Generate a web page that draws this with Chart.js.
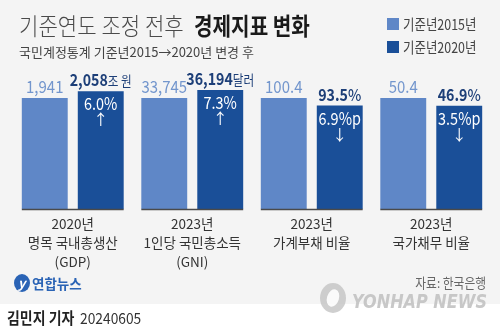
<!DOCTYPE html>
<html><head><meta charset="utf-8">
<script src="https://cdn.jsdelivr.net/npm/chart.js@4/dist/chart.umd.min.js"></script>
<style>html,body{margin:0;padding:0;background:#fff}#wrap{width:500px;height:335px;position:relative}</style>
</head><body><div id="wrap"><canvas id="c" width="500" height="335"></canvas></div>
<script>
const categories = [
  ['2020년','명목 국내총생산','(GDP)'],
  ['2023년','1인당 국민총소득','(GNI)'],
  ['2023년','가계부채 비율'],
  ['2023년','국가채무 비율']
];
const seriesNames = ['기준년2015년','기준년2020년'];
const values2015 = [1941, 33745, 100.4, 50.4];
const values2020 = [2058, 36194, 93.5, 46.9];
const labels2015 = ['1,941','33,745','100.4','50.4'];
const labels2020 = ['2,058','36,194','93.5','46.9'];
const units2020 = ['조 원','달러','%','%'];
const changes = ['6.0%','7.3%','6.9%p','3.5%p'];
const arrows = ['↑','↑','↓','↓'];
const titleLight = '기준연도 조정 전후';
const titleBold = '경제지표 변화';
const subtitle = '국민계정통계 기준년2015→2020년 변경 후';
const source = '자료: 한국은행';
const byline = '김민지 기자';
const dateText = '20240605';

// bars are drawn relative to the 2015 value of each indicator (index 2015 = 100)
const rel2015 = values2015.map((v,i)=>v/values2015[i]*100);
const rel2020 = values2020.map((v,i)=>v/values2015[i]*100);

const F = "'Noto Sans CJK KR','Noto Sans',sans-serif";
const C15 = '#5f87c7', C20 = '#1a4f98';

// draw horizontally condensed text; returns drawn width
function txt(c, s, x, y, font, color, align, sx){
  sx = sx || 0.87;
  c.save(); c.font = font; c.fillStyle = color; c.textBaseline='alphabetic';
  const w = c.measureText(s).width * sx;
  const x0 = align==='center' ? x - w/2 : align==='right' ? x - w : x;
  c.translate(x0, y); c.scale(sx, 1); c.textAlign='left'; c.fillText(s, 0, 0);
  c.restore();
  return w;
}
function measure(c, s, font, sx){ c.save(); c.font=font; const w=c.measureText(s).width*(sx||0.87); c.restore(); return w; }

const deco = {
  id:'deco',
  beforeDraw(ch){
    const c = ch.ctx;
    c.save();
    c.fillStyle='#ffffff'; c.fillRect(0,0,500,335);
    c.fillStyle='#f4f4f4'; c.fillRect(0,0,500,304);
    // title
    txt(c, titleLight, 19, 35, `300 24px ${F}`, '#4a4a4a', 'left', 0.88);
    txt(c, titleBold, 194, 35, `700 24px ${F}`, '#1a1a1a', 'left', 0.84);
    c.font = `400 13px ${F}`; c.fillStyle='#444'; c.textAlign='left';
    c.fillText(subtitle, 19, 57);
    // legend
    [C15, C20].forEach((col,i)=>{
      c.fillStyle=col; c.fillRect(387, 18+i*23, 12, 12);
      txt(c, seriesNames[i], 403, 29.5+i*23, `400 15px ${F}`, '#444', 'left', 0.83);
    });
    // source
    txt(c, source, 486, 288, `400 13.5px ${F}`, '#666', 'right', 0.87);
    // yonhap logo
    c.fillStyle='#2a63b5';
    c.beginPath(); c.ellipse(22, 283, 8, 9, 0, 0, Math.PI*2); c.fill();
    c.fillStyle='#fff'; c.font=`italic 700 13px ${F}`; c.textAlign='left'; c.fillText('y', 18, 288);
    c.fillStyle='#2a63b5'; c.font=`700 13.5px ${F}`;
    c.fillText('연합뉴스', 32, 289);
    // watermark
    c.fillStyle='rgba(195,195,195,0.8)';
    c.beginPath(); c.ellipse(333, 298, 13, 15, 0, 0, Math.PI*2); c.fill();
    c.fillStyle='rgba(255,255,255,0.9)';
    c.beginPath(); c.ellipse(333, 298, 6, 9, 0.3, 0, Math.PI*2); c.fill();
    const wf = `italic 900 19px 'DejaVu Sans',sans-serif`;
    const ww = measure(c, 'YONHAP NEWS', wf, 1);
    txt(c, 'YONHAP NEWS', 352, 308, wf, 'rgba(190,190,190,0.85)', 'left', 135/ww);
    // byline
    const bw = txt(c, byline, 7, 324, `700 15.5px ${F}`, '#222', 'left', 0.9);
    txt(c, dateText, 80, 324, `400 15px ${F}`, '#333', 'left', 0.92);
    c.restore();
  },
  afterDatasetsDraw(ch){
    const c = ch.ctx;
    const m0 = ch.getDatasetMeta(0).data, m1 = ch.getDatasetMeta(1).data;
    c.save();
    // baselines per group
    c.strokeStyle='#4a4a4a'; c.lineWidth=1.5;
    m0.forEach((b,i)=>{
      const l = b.x - b.width/2, r = m1[i].x + m1[i].width/2;
      c.beginPath(); c.moveTo(l, b.base+0.5); c.lineTo(r, b.base+0.5); c.stroke();
    });
    m0.forEach((b,i)=>{
      txt(c, labels2015[i], b.x, b.y-5, `400 17px ${F}`, '#7396cd', 'center', 0.88);
    });
    m1.forEach((b,i)=>{
      const u = units2020[i];
      const small = u !== '%';
      const numFont = `700 16.5px ${F}`;
      const unitFont = small ? `400 13.5px ${F}` : `500 16.5px ${F}`;
      const w1 = measure(c, labels2020[i], numFont, 0.86);
      const w2 = measure(c, u, unitFont, 0.86);
      const x0 = b.x - (w1+w2)/2;
      txt(c, labels2020[i], x0, b.y-5, numFont, '#1d3f78', 'left', 0.86);
      txt(c, u, x0+w1, b.y-5, unitFont, '#1d3f78', 'left', 0.86);
      txt(c, changes[i], b.x, b.y+19, `400 17px ${F}`, '#ffffff', 'center', 0.85);
      txt(c, arrows[i], b.x, b.y+34, `400 15px ${F}`, '#ffffff', 'center', 1);
    });
    c.restore();
  }
};

new Chart(document.getElementById('c'), {
  type:'bar',
  data:{
    labels: categories,
    datasets:[
      {label:seriesNames[0], data:rel2015, backgroundColor:C15, barPercentage:0.82, categoryPercentage:0.937},
      {label:seriesNames[1], data:rel2020, backgroundColor:C20, barPercentage:0.82, categoryPercentage:0.937}
    ]
  },
  options:{
    responsive:false, animation:false, devicePixelRatio:1,
    layout:{padding:{left:13, right:9, top:65, bottom:0}},
    plugins:{legend:{display:false}, tooltip:{enabled:false}},
    scales:{
      y:{display:false, min:0, max:129.7},
      x:{
        grid:{display:false, drawTicks:false}, border:{display:false},
        ticks:{color:'#333', font:{family:F, size:13.5, lineHeight:1.41}, padding:5, maxRotation:0, autoSkip:false},
        afterFit(s){ s.height = 126; }
      }
    }
  },
  plugins:[deco]
});
</script></body></html>
